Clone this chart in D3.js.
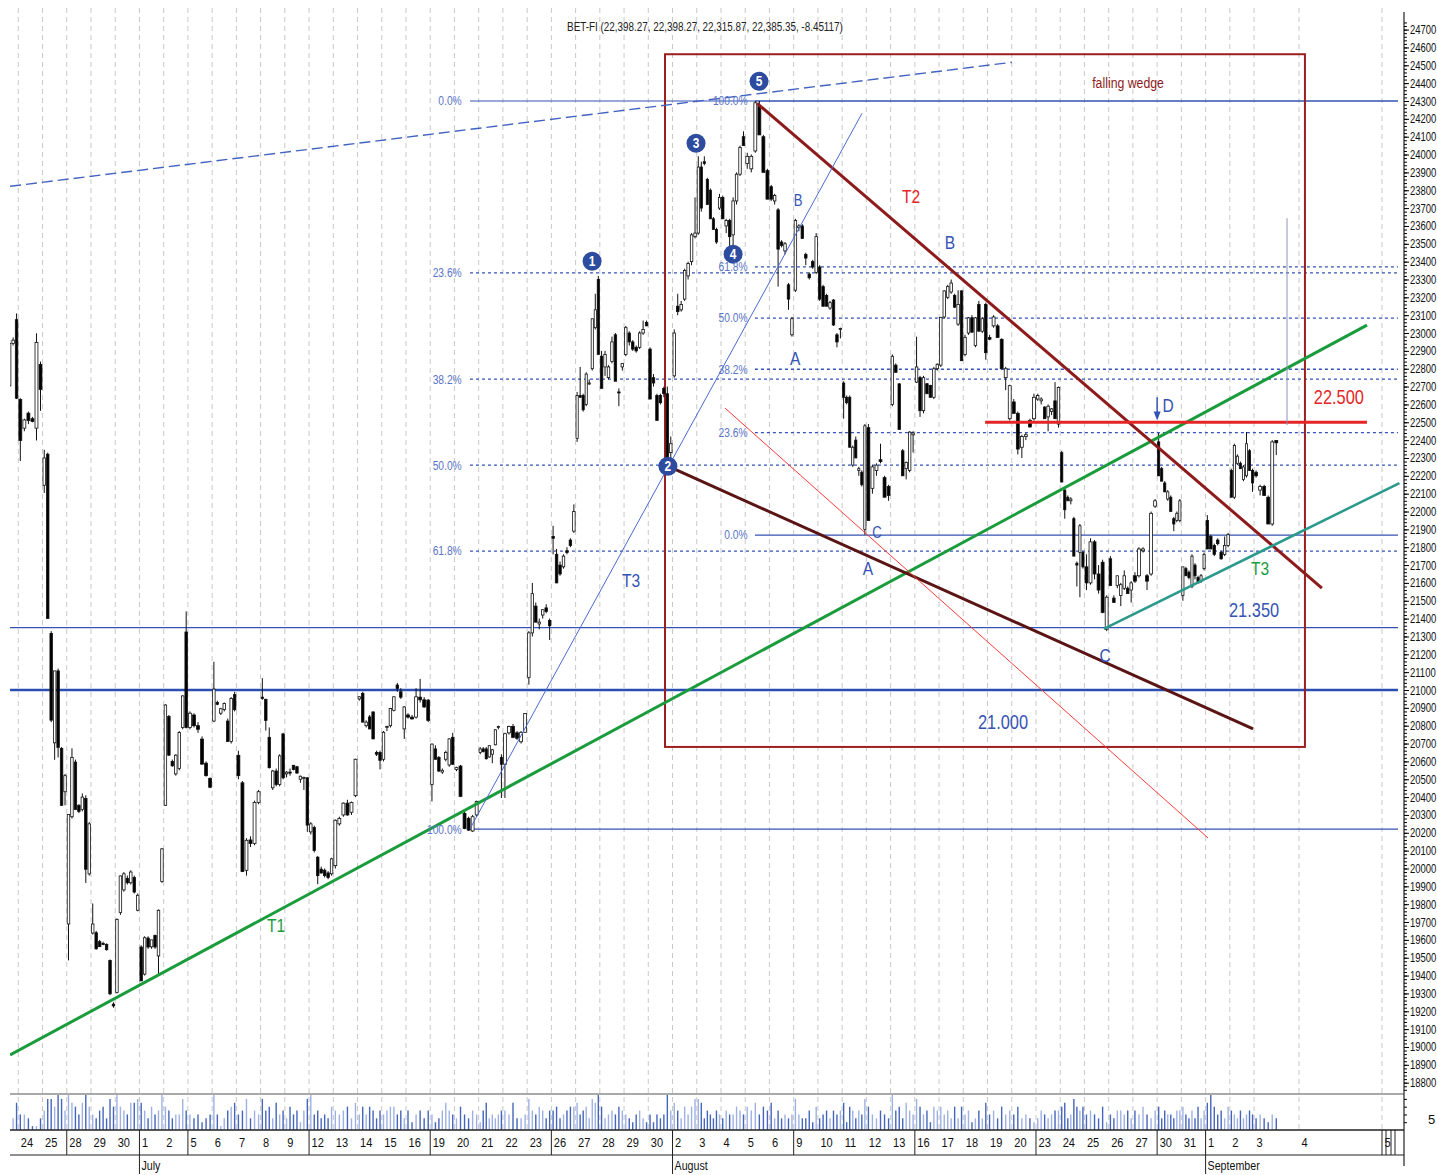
<!DOCTYPE html>
<html>
<head>
<meta charset="utf-8">
<script src="https://cdn.jsdelivr.net/npm/d3@7"></script>
<style>
  body { margin: 0; background: #fff; }
  svg { display: block; font-family: "Liberation Sans", Arial, sans-serif; }
</style>
</head>
<body>
<svg id="chart" width="1437" height="1175"></svg>
<script>
// ---- data ----
// day labels, first one (Jun 23) only partly visible
const dayLabels = ["23","24","25","28","29","30","1","2","5","6","7","8","9","12","13","14","15","16",
  "19","20","21","22","23","26","27","28","29","30","2","3","4","5","6","9","10","11","12","13",
  "16","17","18","19","20","23","24","25","26","27","30","31","1","2","3","4","5"];
const weekStarts = [2, 7, 12, 17, 22, 27, 32, 37, 42, 47, 53];
const monthStarts = [5, 27, 49];
const monthNames = ["July", "August", "September"];

// intraday candles per day: [open, high, low, close, volume]
const ohlcv = [
  [null,null,null,null,[22704,22960,22700,22942,6],[22942,22975,22930,22960,3],[23075,23110,22630,22635,7]],
  [[22628,22635,22283,22398,4],[22467,22520,22450,22513,4],[22551,22560,22490,22510,3],[22520,22530,22500,22505,1],[22467,22998,22398,22947,1],[22824,22840,22564,22684,3]],
  [[22147,22346,22104,22300,5],[22321,22330,21401,21401,8],[21317,21330,20820,20831,8],[20704,21107,20609,21107,6],[21107,21120,20622,20678,9],[20673,20680,20350,20354,8],[20430,20530,20354,20520,5]],
  [[19689,20302,19485,20302,9],[20290,20673,20280,20622,7],[20596,20610,20330,20330,6],[20354,20360,20310,20320,4],[20330,20420,20320,20400,7],[20392,20410,19919,19996,9],[19970,20260,19960,20250,6]],
  [[19638,19804,19630,19689,4],[19640,19650,19545,19550,3],[19590,19600,19560,19562,5],[19580,19590,19570,19575,6],[19575,19580,19540,19545,3],[19485,19490,19290,19298,8],[19240,19250,19220,19230,6]],
  [[19306,19720,19300,19715,9],[19753,19960,19740,19958,6],[19880,19980,19870,19970,5],[19945,19960,19910,19920,4],[19920,19990,19910,19980,7],[19950,19960,19860,19868,7],[19766,19860,19760,19850,8]],
  [[19560,19570,19370,19370,7],[19408,19620,19400,19612,5],[19610,19620,19550,19560,3],[19561,19600,19550,19600,6],[19625,19630,19550,19560,4],[19510,19770,19400,19766,5],[19927,20115,19920,20110,9]],
  [[20354,20920,20350,20916,6],[20852,20860,20630,20635,5],[20600,20610,20570,20575,3],[20530,20640,20520,20635,4],[20560,20770,20550,20762,4],[20790,20970,20780,20967,8],[21325,21440,20785,20790,5]],
  [[20790,20880,20780,20870,4],[20860,20870,20790,20800,3],[20800,20820,20760,20780,4],[20725,20740,20580,20585,2],[20590,20600,20515,20520,3],[20505,20510,20450,20455,4]],
  [[20826,21158,20820,21005,9],[20930,20940,20915,20920,4],[20870,20900,20860,20895,1],[20890,20930,20880,20925,3],[20826,20840,20710,20711,5],[20711,20960,20700,20953,6],[20974,20990,20880,20890,7]],
  [[20634,20660,20500,20520,4],[20480,20490,19980,19983,5],[19990,20170,19960,20158,8],[20160,20180,20120,20140,3],[20140,20380,20130,20370,5],[20370,20440,20360,20430,4]],
  [[20960,21066,20945,20953,8],[20947,20952,20773,20830,5],[20735,20790,20560,20565,6],[20452,20552,20440,20546,3],[20546,20560,20460,20470,7],[20470,20640,20460,20631,4],[20754,20760,20500,20508,5]],
  [[20530,20545,20510,20540,3],[20540,20560,20520,20535,6],[20578,20580,20550,20555,4],[20570,20575,20530,20535,5],[20500,20520,20480,20517,2],[20505,20515,20440,20510,5],[20508,20512,20205,20243,8]],
  [[20205,20260,20190,20250,9],[20230,20240,20090,20101,4],[20063,20070,19912,19960,5],[19996,20010,19970,19975,3],[19990,20000,19950,19960,4],[19975,19985,19940,19950,3],[19970,20060,19960,20054,6]],
  [[20016,20275,20000,20270,5],[20250,20290,20240,20280,4],[20300,20370,20290,20366,5],[20366,20385,20295,20300,6],[20315,20375,20300,20370,3],[20408,20615,20400,20612,7]],
  [[20950,20965,20940,20962,4],[20981,20990,20820,20820,6],[20800,20830,20790,20820,4],[20849,20860,20780,20782,6],[20877,20880,20725,20726,5],[20650,20660,20630,20640,3],[20650,20660,20555,20606,5]],
  [[20612,20770,20600,20763,4],[20790,20800,20770,20795,5],[20800,20900,20790,20896,6],[20886,20965,20880,20962,6],[21028,21040,20990,21009,4],[20990,21010,20950,20960,5],[20782,20910,20726,20905,3]],
  [[20860,20870,20840,20848,5],[20848,20860,20835,20838,2],[20848,21010,20840,20962,4],[20960,21062,20930,20945,5],[20945,20960,20900,20905,3],[20943,20950,20820,20830,5]],
  [[20470,20700,20376,20697,4],[20670,20690,20610,20612,2],[20622,20630,20540,20546,3],[20540,20560,20530,20550,5],[20612,20660,20600,20650,7],[20580,20730,20570,20726,5],[20735,20760,20580,20584,4]],
  [[20555,20570,20545,20565,3],[20574,20580,20400,20404,6],[20309,20320,20220,20224,4],[20281,20290,20210,20215,3],[20210,20300,20205,20290,5],[20300,20380,20290,20376,4]],
  [[20650,20680,20640,20670,2],[20670,20680,20650,20655,5],[20670,20680,20610,20615,7],[20625,20690,20620,20688,3],[20640,20670,20590,20665,4],[20693,20780,20690,20777,3],[20790,20800,20780,20795,4],[20622,20640,20395,20584,5]],
  [[20584,20760,20395,20755,5],[20760,20800,20750,20795,4],[20796,20810,20730,20735,7],[20760,20770,20720,20730,3],[20710,20770,20700,20763,3],[20763,20870,20760,20868,4]],
  [[21070,21330,21030,21320,8],[21320,21600,21300,21540,5],[21470,21490,21380,21380,4],[21370,21400,21340,21380,6],[21420,21450,21400,21450,5],[21460,21480,21430,21440,3],[21390,21400,21280,21360,5]],
  [[21860,21920,21760,21850,5],[21760,21790,21600,21600,6],[21700,21720,21640,21650,3],[21690,21760,21680,21750,4],[21780,21800,21760,21770,5],[21840,21850,21800,21810,6],[21890,22040,21880,22000,6]],
  [[22410,22670,22390,22650,7],[22650,22810,22640,22640,4],[22650,22660,22560,22570,5],[22600,22780,22590,22770,6],[22720,22740,22710,22720,3],[22800,23080,22790,23080,8],[23030,23220,23020,23130,7],[23300,23320,22880,22880,9]],
  [[22870,22900,22690,22690,6],[22810,22900,22760,22880,3],[22750,22820,22740,22810,4],[22840,22980,22830,22950,5],[22990,23000,22730,22730,4],[22670,22690,22590,22665,6],[22810,22830,22790,22830,5]],
  [[22880,23040,22870,23030,4],[23000,23010,22930,22950,3],[22950,22960,22900,22910,2],[22920,22930,22890,22900,4],[22920,23010,22910,23000,5],[23000,23070,22990,23020,3],[23060,23070,23040,23040,2]],
  [[22910,22920,22630,22630,4],[22750,22770,22700,22720,2],[22650,22660,22510,22510,4],[22650,22660,22600,22610,3],[22690,22700,22640,22660,4],[22660,22700,22270,22300,9],[22330,22420,22300,22380,5]],
  [[22760,23020,22750,23000,7],[23150,23220,23100,23120,5],[23130,23180,23120,23160,3],[23190,23360,23180,23350,6],[23320,23400,23300,23390,4],[23400,23560,23380,23550,6],[23540,23760,23530,23560,8]],
  [[23560,23990,23550,23930,8],[23930,23960,23680,23700,7],[23960,23990,23940,23950,3],[23860,23870,23720,23720,5],[23800,23810,23640,23640,4],[23640,23650,23580,23580,3],[23580,23590,23500,23510,5],[23700,23780,23690,23760,4]],
  [[23760,23770,23640,23640,3],[23600,23640,23560,23630,5],[23630,23640,23460,23540,4],[23550,23760,23450,23740,4],[23740,23900,23720,23890,6],[23890,24050,23880,24040,5],[24100,24130,24050,24050,4]],
  [[23950,24010,23920,23990,6],[23920,24000,23900,23990,5],[24020,24300,24010,24290,7],[24270,24300,24110,24110,4],[24100,24110,23900,23900,6],[23910,23920,23750,23750,5]],
  [[23820,23830,23740,23750,7],[23740,23780,23720,23770,3],[23690,23700,23260,23470,5],[23510,23520,23480,23490,3],[23460,23510,23440,23500,4],[23270,23280,23130,23190,3],[22990,23090,22980,23080,4]],
  [[23240,23640,23230,23630,8],[23590,23610,23570,23600,4],[23600,23610,23530,23530,3],[23440,23450,23380,23420,3],[23330,23340,23300,23310,5],[23400,23410,23360,23370,2],[23340,23560,23330,23540,6]],
  [[23370,23380,23180,23190,3],[23260,23270,23150,23150,4],[23210,23220,23150,23150,5],[23140,23180,23130,23170,3],[23185,23190,23040,23045,5],[22990,23000,22920,22950,4],[23020,23030,22970,23025,5]],
  [[22720,22730,22520,22640,7],[22640,22650,22600,22610,2],[22640,22650,22360,22360,6],[22260,22370,22250,22360,5],[22400,22420,22300,22300,3],[22230,22250,22200,22240,5],[22220,22230,22140,22150,4],[21900,22490,21870,22480,8]],
  [[22470,22490,21950,21950,6],[22130,22260,22100,22250,4],[22230,22270,22200,22260,3],[22290,22380,22270,22280,5],[22190,22200,22080,22080,4],[22140,22150,22060,22090,3]],
  [[22600,22880,22590,22870,9],[22820,22830,22780,22780,5],[22715,22720,22460,22460,6],[22340,22350,22200,22200,3],[22240,22280,22180,22275,7],[22230,22450,22220,22445,5],[22430,22450,22330,22440,4]],
  [[22725,22980,22720,22810,8],[22750,22760,22530,22565,6],[22565,22760,22550,22750,4],[22716,22720,22660,22660,5],[22706,22710,22640,22640,2],[22640,22810,22630,22800,6],[22800,22830,22790,22825,5]],
  [[22820,23090,22810,23088,6],[23090,23240,23080,23236,4],[23200,23270,23190,23260,5],[23230,23300,23220,23280,3],[23210,23220,23140,23145,6],[23050,23240,23040,23160,3],[23236,23240,22845,22845,6]],
  [[22880,22990,22870,22976,4],[23000,23090,22990,23085,5],[23085,23100,23000,23005,2],[22930,23090,22920,23085,3],[23160,23180,23010,23010,5],[23010,23090,23000,23080,3],[23160,23170,22850,22890,7]],
  [[22975,22990,22960,22965,4],[23040,23100,23030,23090,5],[23040,23050,22975,22975,3],[22965,22970,22800,22800,6],[22750,22810,22680,22800,4],[22520,22710,22510,22705,5]],
  [[22614,22630,22550,22550,4],[22550,22560,22320,22350,6],[22360,22430,22300,22420,3],[22420,22440,22400,22430,4],[22510,22520,22470,22474,3],[22520,22660,22510,22640,2]],
  [[22630,22660,22620,22650,3],[22620,22640,22600,22630,5],[22585,22590,22520,22520,4],[22530,22600,22450,22590,3],[22560,22580,22540,22575,4],[22620,22725,22520,22520,5],[22490,22700,22470,22695,5]],
  [[22330,22340,22165,22165,6],[22120,22130,21960,22010,7],[22080,22090,22060,22060,3],[22060,22080,22040,22070,4],[21960,21970,21750,21750,8],[21710,21720,21580,21700,6],[21770,21930,21520,21920,5],[21770,21780,21680,21690,6]],
  [[21690,21760,21560,21600,4],[21600,21850,21590,21830,5],[21830,21840,21620,21650,4],[21650,21700,21540,21560,3],[21716,21730,21430,21434,6],[21340,21530,21330,21520,2]],
  [[21735,21750,21585,21585,4],[21515,21530,21490,21490,3],[21585,21640,21570,21640,5],[21530,21600,21470,21590,5],[21570,21670,21560,21640,4],[21570,21580,21540,21540,5],[21560,21610,21490,21600,3]],
  [[21640,21660,21600,21610,5],[21640,21800,21630,21790,4],[21780,21800,21770,21790,6],[21640,21650,21560,21610,4],[21650,22000,21640,21990,3],[22030,22070,22020,22060,5]],
  [[22390,22440,22200,22200,6],[22240,22250,22170,22170,3],[22160,22170,22110,22110,5],[22070,22120,22060,22110,4],[22080,22090,22000,22000,4],[21960,21970,21890,21930,3],[21950,22000,21940,21990,5],[21950,22070,21940,22060,5]],
  [[21530,21690,21500,21690,6],[21680,21690,21640,21640,4],[21660,21670,21620,21630,3],[21580,21760,21570,21750,5],[21700,21710,21620,21640,3],[21630,21640,21600,21600,6],[21610,21650,21600,21640,3],[21680,21770,21670,21760,5]],
  [[21950,21980,21790,21790,7],[21860,21870,21790,21790,9],[21810,21820,21750,21760,6],[21840,21850,21810,21820,4],[21770,21780,21730,21735,5],[21760,21860,21750,21810,3],[21810,21880,21800,21870,6]],
  [[22230,22240,22080,22080,5],[22080,22380,22070,22370,4],[22270,22320,22260,22310,3],[22270,22280,22240,22240,5],[22180,22260,22170,22250,3],[22200,22445,22190,22380,4],[22340,22350,22230,22230,5],[22230,22240,22110,22160,4]],
  [[22220,22230,22190,22200,3],[22120,22150,22090,22140,4],[22140,22150,22090,22090,3],[22080,22090,21930,21930,2],[21930,22400,21920,22390,4],[22398,22398,22316,22385,3]]
];

// Fibonacci retracements
const fibLevels = [0, 0.236, 0.382, 0.5, 0.618, 1];
const fibA = { high: 24300, low: 20220, start: 18.64, labelAt: 18.3 };   // top = 0.0%
const fibB = { high: 24300, low: 21868, start: 30.4, labelAt: 30.1 };    // low = 0.0%
const fullLevels = [21350, 21000];

// trend lines: [dayPos, price] pairs
const trendLines = [
  { id: "dash", a: [-0.34, 23822], b: [41.01, 24517] },
  { id: "T1",   a: [-0.34, 18956], b: [55.66, 23044] },
  { id: "T2",   a: [30.49, 24287], b: [53.8, 21571] },
  { id: "wedge", a: [26.81, 22254], b: [50.96, 20782] },
  { id: "thin", a: [29.17, 22579], b: [49.1, 20171] },
  { id: "T3b",  a: [18.64, 20222], b: [34.82, 24231] },
  { id: "T3g",  a: [44.8, 21342], b: [57.0, 22159] },
  { id: "r22500", a: [39.9, 22500], b: [55.66, 22500] },
  { id: "cursor", a: [52.36, 23643], b: [52.36, 22484] }
];
const wedgeBox = { p0: 26.69, p1: 53.1, top: 24562, bottom: 20681 };

const waveNames = ["1", "2", "3", "4", "5"];
const wavePoints = [[23.68, 23402], [26.81, 22254], [27.97, 24063], [29.5, 23442], [30.57, 24410]];

const notes = [
  { t: "A", p: 32.06, v: 22859, k: "abc" }, { t: "B", p: 32.18, v: 23744, k: "abcS" },
  { t: "C", p: 35.44, v: 21885, k: "abcS" }, { t: "A", p: 35.07, v: 21683, k: "abc" },
  { t: "B", p: 38.45, v: 23509, k: "abc" }, { t: "C", p: 44.85, v: 21196, k: "abc" },
  { t: "D", p: 47.45, v: 22596, k: "abc" },
  { t: "T1", p: 10.64, v: 19684, k: "green" }, { t: "T2", p: 36.84, v: 23766, k: "red" },
  { t: "T3", p: 25.29, v: 21616, k: "abc" }, { t: "T3", p: 51.25, v: 21683, k: "green" },
  { t: "21.350", p: 51.0, v: 21448, k: "big" }, { t: "21.000", p: 40.64, v: 20821, k: "big" },
  { t: "22.500", p: 54.5, v: 22641, k: "bigRed" }, { t: "falling wedge", p: 45.8, v: 24405, k: "wedge" }
];

const title = "BET-FI (22,398.27, 22,398.27, 22,315.87, 22,385.35, -8.45117)";

// ---- styles ----
const blue = "#3553b5", labelBlue = "#5a74c8";
const narrow = 0.82;
const lineStyle = {
  dash:  { c: "#4262c2", w: 1.4, d: "11,5" },
  T1:    { c: "#1a9c3c", w: 3 },
  T2:    { c: "#8e1b1b", w: 3 },
  wedge: { c: "#5a1414", w: 3 },
  thin:  { c: "#ff3b3b", w: 1 },
  T3b:   { c: "#4a6ad0", w: 1 },
  T3g:   { c: "#2b9a8c", w: 2.5 },
  r22500:{ c: "#e52525", w: 3 },
  cursor:{ c: "#8a94b8", w: 1 }
};
const noteStyle = {
  abc:   { c: blue, s: 19 }, abcS: { c: blue, s: 16 },
  green: { c: "#1a9c3c", s: 19 }, red: { c: "#e52525", s: 19 },
  big:   { c: blue, s: 20 }, bigRed: { c: "#e52525", s: 20 },
  wedge: { c: "#8e1b1b", s: 15 }
};

// squeeze text horizontally around its anchor (narrow font look)
function squeeze(sel, sx) {
  sel.each(function () {
    const t = d3.select(this);
    const tx = +t.attr("x") || 0, ty = +t.attr("y") || 0;
    t.attr("x", 0).attr("y", 0).attr("transform", `translate(${tx},${ty}) scale(${sx},1)`);
  });
}

// ---- scales ----
const W = 1437, plotL = 10, plotR = 1400, volTop = 1094, volBot = 1130;
const x = d3.scaleLinear().domain([0, 49]).range([18.3, 1205.6]);
const dayW = x(1) - x(0);
const xAxisScale = d3.scaleLinear().domain([-1, 51, 52, 53]).range([x(-1), x(51), 1299, 1382]);
const y = d3.scaleLinear().domain([21000, 24300]).range([690, 101]);
const yVol = d3.scaleLinear().domain([0, 9]).range([volBot, volTop + 1]);

const svg = d3.select("#chart");
svg.append("rect").attr("width", W).attr("height", 1175).attr("fill", "#fff");

svg.append("defs").append("clipPath").attr("id", "plotClip")
  .append("rect").attr("x", plotL).attr("y", 6).attr("width", plotR - plotL).attr("height", volTop - 6);

// vertical dashed grid (day boundaries)
svg.append("g").selectAll("line").data(d3.range(0, 54)).join("line")
  .attr("x1", d => xAxisScale(d)).attr("x2", d => xAxisScale(d))
  .attr("y1", 8).attr("y2", volBot)
  .attr("stroke", "#c8c8c8").attr("stroke-width", 1).attr("stroke-dasharray", "5,4");

const plot = svg.append("g").attr("clip-path", "url(#plotClip)");

// fibonacci lines
function fibValue(f, lvl, fromTop) { return fromTop ? f.high - lvl * (f.high - f.low) : f.low + lvl * (f.high - f.low); }
const fibLabels = svg.append("g");
[[fibA, true], [fibB, false]].forEach(([f, fromTop]) => {
  fibLevels.forEach(lvl => {
    const v = fibValue(f, lvl, fromTop);
    const solid = lvl === 0 || lvl === 1;
    plot.append("line")
      .attr("x1", x(f.start)).attr("x2", plotR - 2)
      .attr("y1", y(v)).attr("y2", y(v))
      .attr("stroke", blue).attr("stroke-width", solid ? 1.2 : 1.3)
      .attr("stroke-dasharray", solid ? null : "3,3");
    fibLabels.append("text")
      .attr("x", x(f.labelAt)).attr("y", y(v)).attr("dy", "0.35em")
      .attr("text-anchor", "end").attr("font-size", 12.5).attr("fill", labelBlue)
      .text((lvl * 100).toFixed(1) + "%");
  });
});
squeeze(fibLabels.selectAll("text"), narrow);

// full width levels
fullLevels.forEach((v, i) => {
  plot.append("line").attr("x1", plotL).attr("x2", plotR - 2)
    .attr("y1", y(v)).attr("y2", y(v))
    .attr("stroke", i === 1 ? "#2b4fb0" : blue).attr("stroke-width", i === 1 ? 2.6 : 1.3);
});

// wedge box
plot.append("rect")
  .attr("x", x(wedgeBox.p0)).attr("y", y(wedgeBox.top))
  .attr("width", x(wedgeBox.p1) - x(wedgeBox.p0)).attr("height", y(wedgeBox.bottom) - y(wedgeBox.top))
  .attr("fill", "none").attr("stroke", "#9c1f1f").attr("stroke-width", 2);

// candles
const candles = [];
ohlcv.forEach((day, i) => {
  const k = i - 1, n = day.length, slot = dayW / n;
  day.forEach((c, j) => {
    if (!c) return;
    candles.push({ cx: x(k) + (j + 0.5) * slot, w: Math.max(1.8, slot * 0.72), o: c[0], h: c[1], l: c[2], c: c[3], v: c[4] });
  });
});

const cg = plot.append("g");
cg.selectAll("line.wick").data(candles).join("line").attr("class", "wick")
  .attr("x1", d => d.cx).attr("x2", d => d.cx)
  .attr("y1", d => y(d.h)).attr("y2", d => y(d.l))
  .attr("stroke", "#111").attr("stroke-width", 1);
cg.selectAll("rect.body").data(candles).join("rect").attr("class", "body")
  .attr("x", d => d.cx - d.w / 2).attr("width", d => d.w)
  .attr("y", d => y(Math.max(d.o, d.c)))
  .attr("height", d => Math.max(1, Math.abs(y(d.o) - y(d.c))))
  .attr("fill", d => d.c >= d.o ? "#fff" : "#000")
  .attr("stroke", "#111").attr("stroke-width", 0.8);

// trend lines
plot.append("g").selectAll("line").data(trendLines).join("line")
  .attr("x1", d => x(d.a[0])).attr("y1", d => y(d.a[1]))
  .attr("x2", d => x(d.b[0])).attr("y2", d => y(d.b[1]))
  .attr("stroke", d => lineStyle[d.id].c).attr("stroke-width", d => lineStyle[d.id].w)
  .attr("stroke-dasharray", d => lineStyle[d.id].d || null);

// arrow at D
const arrowP = 47.0;
plot.append("line").attr("x1", x(arrowP)).attr("x2", x(arrowP)).attr("y1", y(22640)).attr("y2", y(22540))
  .attr("stroke", blue).attr("stroke-width", 1.5);
plot.append("path")
  .attr("d", `M${x(arrowP) - 3.5},${y(22560)} L${x(arrowP) + 3.5},${y(22560)} L${x(arrowP)},${y(22510)} Z`)
  .attr("fill", blue);

// wave circles
const wg = plot.append("g").selectAll("g").data(wavePoints).join("g")
  .attr("transform", d => `translate(${x(d[0])},${y(d[1])})`);
wg.append("circle").attr("r", 9.5).attr("fill", "#2d4b9f");
wg.append("text").attr("text-anchor", "middle").attr("dy", "0.36em")
  .attr("font-size", 14).attr("font-weight", "bold").attr("fill", "#fff")
  .attr("transform", "scale(0.85,1)")
  .text((d, i) => waveNames[i]);

// notes
const noteG = plot.append("g");
noteG.selectAll("text").data(notes).join("text")
  .attr("x", d => x(d.p)).attr("y", d => y(d.v)).attr("dy", "0.35em")
  .attr("text-anchor", "middle")
  .attr("font-size", d => noteStyle[d.k].s).attr("fill", d => noteStyle[d.k].c)
  .text(d => d.t);
squeeze(noteG.selectAll("text"), narrow);

// title
const titleT = svg.append("text").attr("x", 705).attr("y", 31).attr("text-anchor", "middle")
  .attr("font-size", 13).attr("fill", "#222").text(title);
squeeze(titleT, 0.76);

// ---- volume panel ----
svg.append("line").attr("x1", plotL).attr("x2", 1404).attr("y1", volTop).attr("y2", volTop)
  .attr("stroke", "#555").attr("stroke-width", 1.2);
svg.append("g").selectAll("line").data(candles.filter(d => d.cx > plotL)).join("line")
  .attr("x1", d => d.cx).attr("x2", d => d.cx)
  .attr("y1", volBot).attr("y2", d => yVol(d.v))
  .attr("stroke", d => d.c >= d.o ? "#9fb1e3" : "#4565bb").attr("stroke-width", 1.4);

// ---- bottom axis ----
svg.append("line").attr("x1", plotL).attr("x2", 1404).attr("y1", volBot).attr("y2", volBot)
  .attr("stroke", "#222").attr("stroke-width", 1.5);
svg.append("line").attr("x1", plotL).attr("x2", 1404).attr("y1", 1155).attr("y2", 1155)
  .attr("stroke", "#222").attr("stroke-width", 1.2);

const xAxis = d3.axisBottom(xAxisScale)
  .tickValues(d3.range(0, 54))
  .tickSize(0)
  .tickFormat(k => dayLabels[k + 1]);
const xg = svg.append("g").attr("transform", `translate(0,${volBot})`).call(xAxis);
xg.select(".domain").remove();
xg.selectAll("text").attr("text-anchor", "start").attr("x", 2).attr("y", 7)
  .attr("font-size", 13.5).attr("font-family", null).attr("fill", "#111");
squeeze(xg.selectAll("text"), narrow);

svg.append("g").selectAll("line").data(weekStarts).join("line")
  .attr("x1", d => xAxisScale(d)).attr("x2", d => xAxisScale(d))
  .attr("y1", volBot).attr("y2", 1155).attr("stroke", "#222");
svg.append("g").selectAll("line").data(monthStarts).join("line")
  .attr("x1", d => xAxisScale(d)).attr("x2", d => xAxisScale(d))
  .attr("y1", volBot).attr("y2", 1174).attr("stroke", "#222");
const monthG = svg.append("g");
monthG.selectAll("text").data(monthStarts).join("text")
  .attr("x", d => xAxisScale(d) + 2).attr("y", 1170)
  .attr("font-size", 13).attr("fill", "#111")
  .text((d, i) => monthNames[i]);
squeeze(monthG.selectAll("text"), narrow);
[1386, 1391, 1395].forEach(px => {
  svg.append("line").attr("x1", px).attr("x2", px).attr("y1", volBot).attr("y2", 1155).attr("stroke", "#222");
});

// ---- right price axis ----
const axisX = 1404;
svg.append("line").attr("x1", axisX).attr("x2", axisX).attr("y1", 12).attr("y2", volBot + 36)
  .attr("stroke", "#222").attr("stroke-width", 1.2);
const yg = svg.append("g").attr("transform", `translate(${axisX},0)`)
  .call(d3.axisRight(y).tickValues(d3.range(18800, 24701, 100)).tickSize(5).tickFormat(d3.format("d")));
yg.select(".domain").remove();
yg.selectAll("text").attr("font-size", 12.5).attr("font-family", null).attr("fill", "#111").attr("x", 6);
squeeze(yg.selectAll("text"), 0.76);
svg.append("g").attr("transform", `translate(${axisX},0)`)
  .call(d3.axisRight(y).tickValues(d3.range(18760, 24760, 20)).tickSize(3).tickFormat(""))
  .select(".domain").remove();
svg.append("g").attr("transform", `translate(${axisX},0)`)
  .call(d3.axisRight(yVol).tickValues([2, 4, 6, 8]).tickSize(3).tickFormat(""))
  .select(".domain").remove();
svg.append("text").attr("x", 1428).attr("y", 1124).attr("font-size", 13).attr("fill", "#111").text("5");
</script>
</body>
</html>
